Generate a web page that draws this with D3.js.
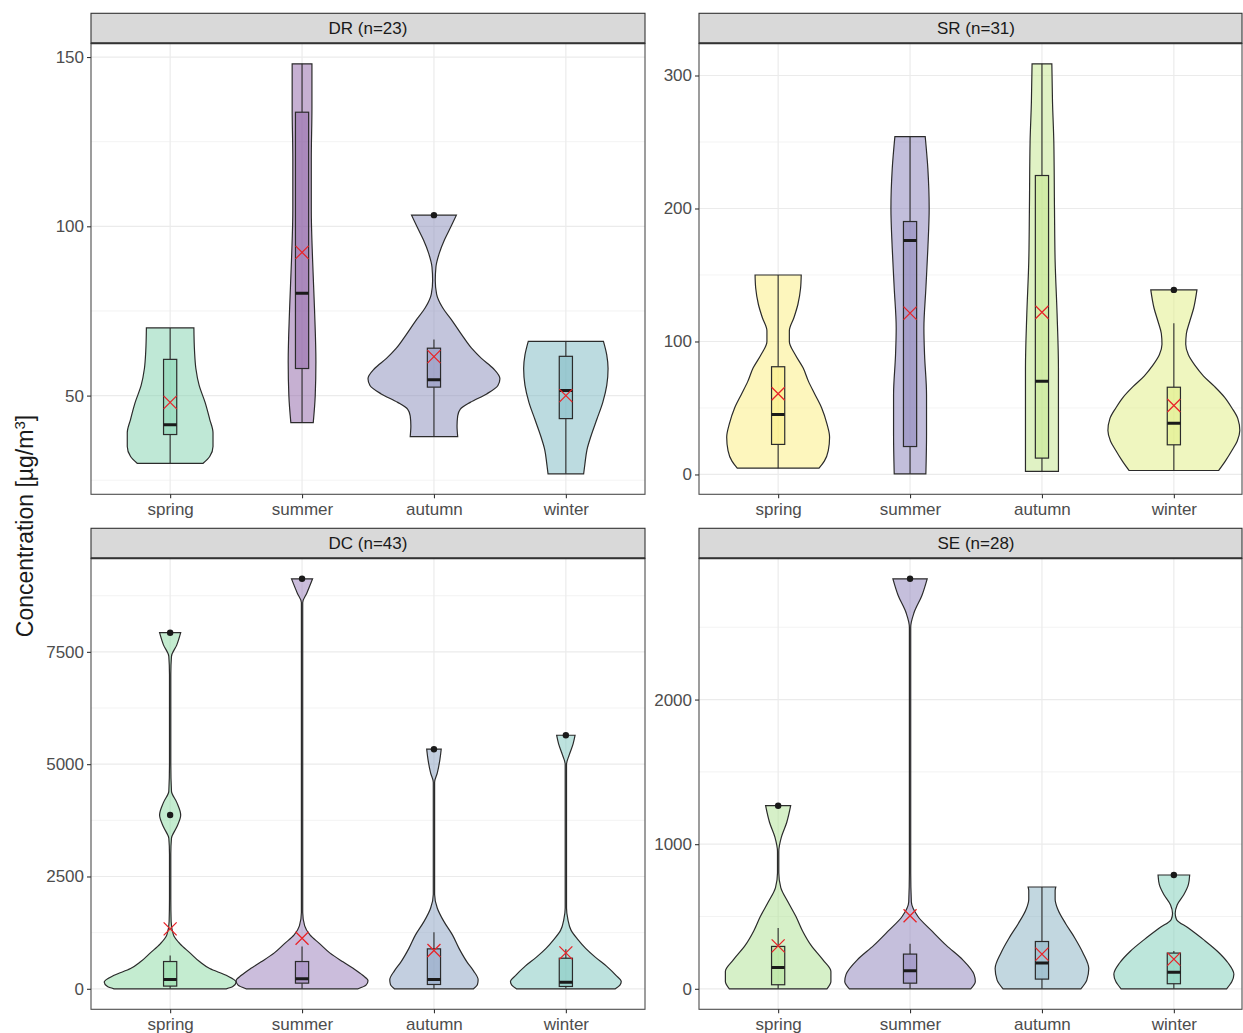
<!DOCTYPE html>
<html>
<head>
<meta charset="utf-8">
<script src="https://cdn.jsdelivr.net/npm/d3@7"></script>
<style>
body { margin: 0; background: #fff; }
svg { font-family: "Liberation Sans", Arial, sans-serif; }
</style>
</head>
<body>
<svg width="1243" height="1033"></svg>
<script>
"use strict";

var seasons = ["spring", "summer", "autumn", "winter"];
var panelNames = ["DR", "SR", "DC", "SE"];
var panelCounts = [23, 31, 43, 28];

// per season: [lower whisker, q1, median, q3, upper whisker, mean]
var drBoxes = [[30, 38.5, 41.4, 60.7, 70, 48], [42, 58, 80.2, 133.7, 148, 92.3], [37.9, 52.5, 54.7, 64, 66.6, 61.5], [26.9, 43.2, 51.5, 61.6, 66, 50]];
var srBoxes = [[4.7, 22.6, 45, 81, 150, 60.7], [0.5, 21, 176, 190.2, 254, 121.3], [2.3, 12.3, 70, 224.8, 308.8, 122], [3, 22.3, 38.6, 65.6, 113.8, 51.9]];
var dcBoxes = [[0, 60, 207, 607, 740, 1333], [0, 126, 222, 607, 941, 1126], [0, 96, 207, 889, 1259, 852], [0, 52, 148, 681, 880, 800]];
var seBoxes = [[0, 28, 147, 293, 420, 297], [0, 39, 125, 240, 311, 505], [0, 67, 178, 327, 704, 240], [0, 35, 115, 247, 262, 205]];

var drOutliers = [[], [], [103.3], []];
var srOutliers = [[], [], [], [138.8]];
var dcOutliers = [[3867, 7926], [9126], [5333], [5644]];
var seOutliers = [[1266], [2835], [], [787]];

// violin outline per season: [value, relative half width]
var drViolins = [
  [[30, 0.5], [32, 0.6], [35, 0.65], [39, 0.65], [43, 0.6], [48, 0.53], [53, 0.44], [58, 0.39], [63, 0.37], [70, 0.36]],
  [[42, 0.17], [50, 0.2], [60, 0.21], [75, 0.19], [90, 0.16], [105, 0.14], [120, 0.14], [135, 0.15], [148, 0.15]],
  [[37.9, 0.36], [41, 0.35], [44, 0.36], [46, 0.4], [48, 0.55], [50.5, 0.8], [53, 0.97], [55, 1.0], [58, 0.9], [61, 0.72], [64, 0.57], [68, 0.42], [72, 0.28], [76, 0.13], [80, 0.04], [84, 0.02], [88, 0.03], [92, 0.08], [96, 0.16], [100, 0.26], [103.3, 0.34]],
  [[26.9, 0.27], [30, 0.29], [34, 0.32], [38, 0.38], [43, 0.47], [48, 0.56], [53, 0.62], [58, 0.64], [62, 0.62], [66, 0.57]]
];
var srViolins = [
  [[4.7, 0.62], [10, 0.7], [18, 0.76], [28, 0.78], [38, 0.74], [50, 0.66], [60, 0.56], [70, 0.46], [80, 0.38], [90, 0.26], [100, 0.17], [108, 0.17], [118, 0.24], [128, 0.3], [140, 0.34], [150, 0.35]],
  [[0.5, 0.24], [30, 0.25], [60, 0.25], [90, 0.22], [110, 0.21], [140, 0.24], [170, 0.27], [200, 0.29], [230, 0.27], [254, 0.23]],
  [[2.3, 0.25], [40, 0.25], [80, 0.25], [120, 0.23], [160, 0.2], [200, 0.19], [250, 0.18], [280, 0.16], [308.8, 0.15]],
  [[3, 0.68], [10, 0.78], [18, 0.88], [25, 0.96], [33, 1.0], [42, 0.97], [50, 0.88], [58, 0.77], [66, 0.62], [74, 0.45], [82, 0.32], [90, 0.22], [98, 0.18], [106, 0.19], [115, 0.24], [125, 0.3], [138.8, 0.35]]
];
var dcViolins = [
  [[0, 0.85], [50, 0.95], [150, 1.0], [300, 0.85], [450, 0.6], [600, 0.45], [800, 0.3], [1000, 0.15], [1200, 0.05], [1500, 0.015], [2000, 0.01], [3000, 0.01], [3350, 0.02], [3600, 0.1], [3867, 0.16], [4150, 0.1], [4400, 0.02], [5000, 0.01], [7000, 0.01], [7400, 0.02], [7650, 0.1], [7926, 0.16]],
  [[0, 0.85], [80, 0.97], [180, 1.0], [300, 0.92], [450, 0.78], [600, 0.62], [800, 0.42], [1000, 0.27], [1200, 0.12], [1400, 0.04], [1700, 0.01], [5000, 0.01], [8600, 0.01], [8800, 0.07], [9126, 0.16]],
  [[0, 0.6], [100, 0.66], [200, 0.67], [400, 0.6], [600, 0.5], [900, 0.38], [1200, 0.28], [1500, 0.15], [1800, 0.05], [2100, 0.01], [4600, 0.01], [4800, 0.05], [5100, 0.09], [5333, 0.11]],
  [[0, 0.75], [80, 0.82], [160, 0.84], [300, 0.76], [500, 0.62], [700, 0.45], [900, 0.3], [1100, 0.18], [1300, 0.08], [1550, 0.03], [1800, 0.01], [5000, 0.01], [5200, 0.05], [5450, 0.11], [5644, 0.14]]
];
var seViolins = [
  [[0, 0.74], [50, 0.8], [120, 0.8], [200, 0.68], [300, 0.5], [400, 0.37], [500, 0.27], [600, 0.15], [700, 0.04], [800, 0.01], [950, 0.01], [1050, 0.05], [1150, 0.13], [1266, 0.19]],
  [[0, 0.92], [50, 0.99], [100, 0.97], [200, 0.8], [300, 0.55], [400, 0.33], [500, 0.12], [600, 0.02], [800, 0.01], [2500, 0.01], [2600, 0.06], [2720, 0.18], [2835, 0.26]],
  [[0, 0.59], [60, 0.68], [140, 0.71], [250, 0.62], [350, 0.5], [450, 0.36], [550, 0.24], [620, 0.2], [680, 0.2], [704, 0.21]],
  [[0, 0.8], [50, 0.88], [100, 0.91], [180, 0.82], [260, 0.66], [340, 0.45], [420, 0.22], [480, 0.04], [520, 0.02], [580, 0.05], [650, 0.15], [720, 0.22], [787, 0.24]]
];

var drTicks = [50, 100, 150];
var srTicks = [0, 100, 200, 300];
var dcTicks = [0, 2500, 5000, 7500];
var seTicks = [0, 1000, 2000];

var drColors = ["#7fd1ad", "#8d61a5", "#878bb9", "#79b7c1"];
var srColors = ["#fbed7b", "#857db7", "#c1e589", "#dfed7f"];
var dcColors = ["#89d9a1", "#977bb9", "#879fc1", "#7bc5bd"];
var seColors = ["#ade191", "#8b7fb9", "#85afc1", "#7bcdb7"];

var panels = [
  { boxes: drBoxes, outliers: drOutliers, violins: drViolins, ticks: drTicks, colors: drColors },
  { boxes: srBoxes, outliers: srOutliers, violins: srViolins, ticks: srTicks, colors: srColors },
  { boxes: dcBoxes, outliers: dcOutliers, violins: dcViolins, ticks: dcTicks, colors: dcColors },
  { boxes: seBoxes, outliers: seOutliers, violins: seViolins, ticks: seTicks, colors: seColors }
];

var svg = d3.select("svg"),
    width = +svg.attr("width"),
    height = +svg.attr("height");

var colLeft = [91, 699],
    rowTop = [13.3, 528.3],
    stripH = 30,
    panelW = 554,
    panelH = 451;

var defs = svg.append("defs");

panels.forEach(function (p, i) {
  var left = colLeft[i % 2],
      top = rowTop[Math.floor(i / 2)] + stripH,
      bottom = top + panelH,
      visW = Math.min(panelW, width - 1 - left);

  var x = d3.scalePoint().domain(seasons).range([left, left + panelW]).padding(0.6);
  var step = x.step();

  var allVals = [];
  p.violins.forEach(function (v) { v.forEach(function (d) { allVals.push(d[0]); }); });
  p.outliers.forEach(function (o) { allVals = allVals.concat(o); });
  var lo = d3.min(allVals), hi = d3.max(allVals), pad = (hi - lo) * 0.05;
  var y = d3.scaleLinear().domain([lo - pad, hi + pad]).range([bottom, top]);
  var w = d3.scaleLinear().domain([0, 1]).range([0, step / 2]);

  var g = svg.append("g");

  // grid
  var tickStep = p.ticks[1] - p.ticks[0];
  var minor = d3.range(p.ticks[0] - tickStep / 2, hi + pad, tickStep).filter(function (t) {
    return t > lo - pad && t < hi + pad;
  });
  g.selectAll(".minor").data(minor).enter().append("line")
    .attr("x1", left).attr("x2", left + visW)
    .attr("y1", function (d) { return y(d); }).attr("y2", function (d) { return y(d); })
    .attr("stroke", "#ebebeb").attr("stroke-width", 0.6);
  g.selectAll(".major").data(p.ticks).enter().append("line")
    .attr("x1", left).attr("x2", left + visW)
    .attr("y1", function (d) { return y(d); }).attr("y2", function (d) { return y(d); })
    .attr("stroke", "#ebebeb").attr("stroke-width", 1.2);
  g.selectAll(".xgrid").data(seasons).enter().append("line")
    .attr("x1", function (d) { return x(d); }).attr("x2", function (d) { return x(d); })
    .attr("y1", top).attr("y2", bottom)
    .attr("stroke", "#ebebeb").attr("stroke-width", 1.2);

  var clipId = "clip" + i;
  defs.append("clipPath").attr("id", clipId).append("rect")
    .attr("x", left).attr("y", top).attr("width", visW).attr("height", panelH);
  var marks = g.append("g").attr("clip-path", "url(#" + clipId + ")");

  seasons.forEach(function (s, j) {
    var cx = x(s), b = p.boxes[j], col = p.colors[j];
    var area = d3.area()
      .curve(d3.curveMonotoneY)
      .y(function (d) { return y(d[0]); })
      .x0(function (d) { return cx - w(d[1]); })
      .x1(function (d) { return cx + w(d[1]); });

    marks.append("path").datum(p.violins[j])
      .attr("d", area)
      .attr("fill", col).attr("fill-opacity", 0.5)
      .attr("stroke", "#2b2b2b").attr("stroke-width", 1.2);

    var bw = step * 0.1;
    marks.append("line")
      .attr("x1", cx).attr("x2", cx).attr("y1", y(b[0])).attr("y2", y(b[1]))
      .attr("stroke", "#2b2b2b").attr("stroke-width", 1.1);
    marks.append("line")
      .attr("x1", cx).attr("x2", cx).attr("y1", y(b[3])).attr("y2", y(b[4]))
      .attr("stroke", "#2b2b2b").attr("stroke-width", 1.1);
    marks.append("rect")
      .attr("x", cx - bw / 2).attr("width", bw)
      .attr("y", y(b[3])).attr("height", y(b[1]) - y(b[3]))
      .attr("fill", col).attr("fill-opacity", 0.5)
      .attr("stroke", "#2b2b2b").attr("stroke-width", 1.2);
    marks.append("line")
      .attr("x1", cx - bw / 2).attr("x2", cx + bw / 2).attr("y1", y(b[2])).attr("y2", y(b[2]))
      .attr("stroke", "#1a1a1a").attr("stroke-width", 3);

    marks.selectAll(".out" + j).data(p.outliers[j]).enter().append("circle")
      .attr("cx", cx).attr("cy", function (d) { return y(d); })
      .attr("r", 3.2).attr("fill", "#1a1a1a");

    var my = y(b[5]), m = 6.5;
    marks.append("path")
      .attr("d", "M" + (cx - m) + "," + (my - m) + "L" + (cx + m) + "," + (my + m) +
                 "M" + (cx - m) + "," + (my + m) + "L" + (cx + m) + "," + (my - m))
      .attr("stroke", "#e8262b").attr("stroke-width", 1.3).attr("fill", "none");
  });

  // panel border
  g.append("rect")
    .attr("x", left).attr("y", top).attr("width", visW).attr("height", panelH)
    .attr("fill", "none").attr("stroke", "#4d4d4d").attr("stroke-width", 1.1);

  // strip
  g.append("rect")
    .attr("x", left).attr("y", top - stripH).attr("width", visW).attr("height", stripH)
    .attr("fill", "#d9d9d9").attr("stroke", "#333").attr("stroke-width", 1.1);
  g.append("line")
    .attr("x1", left).attr("x2", left + visW).attr("y1", top).attr("y2", top)
    .attr("stroke", "#333").attr("stroke-width", 2);
  g.append("text")
    .attr("x", left + panelW / 2).attr("y", top - stripH / 2)
    .attr("dy", "0.35em").attr("text-anchor", "middle")
    .attr("font-size", 17).attr("fill", "#1a1a1a")
    .text(panelNames[i] + " (n=" + panelCounts[i] + ")");

  // axes
  var yAxis = g.append("g").attr("transform", "translate(" + left + ",0)")
    .call(d3.axisLeft(y).tickValues(p.ticks).tickFormat(d3.format("d")).tickSize(4).tickPadding(3));
  var xAxis = g.append("g").attr("transform", "translate(0," + bottom + ")")
    .call(d3.axisBottom(x).tickSize(4).tickPadding(5));
  [yAxis, xAxis].forEach(function (a) {
    a.select(".domain").remove();
    a.selectAll(".tick line").attr("stroke", "#333").attr("stroke-width", 1.1);
    a.selectAll(".tick text").attr("fill", "#4d4d4d").attr("font-size", 17)
      .attr("font-family", "Liberation Sans, Arial, sans-serif");
  });
});

// y axis title
var title = svg.append("text")
  .attr("transform", "translate(33,526) rotate(-90)")
  .attr("text-anchor", "middle")
  .attr("font-size", 23).attr("fill", "#1a1a1a");
title.append("tspan").text("Concentration [µg/m");
title.append("tspan").attr("baseline-shift", "super").attr("font-size", 15).text("3");
title.append("tspan").text("]");
</script>
</body>
</html>
